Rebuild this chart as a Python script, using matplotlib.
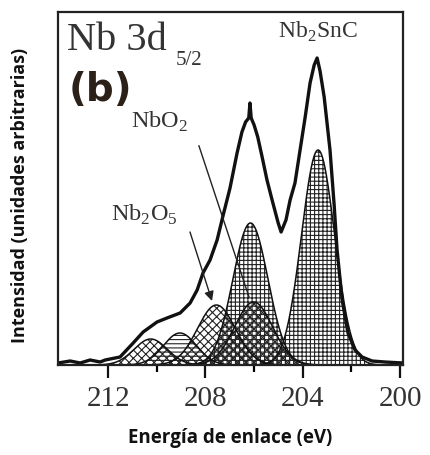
import numpy as np
import matplotlib
matplotlib.use("Agg")
import matplotlib.pyplot as plt

plt.rcParams['mathtext.fontset'] = 'custom'
plt.rcParams['mathtext.rm'] = 'Liberation Serif'
plt.rcParams['hatch.linewidth'] = 0.8

# Measured envelope (binding energy eV, intensity a.u.)
env_energy = [214.06, 213.56, 213.15, 212.74, 212.33, 212.12, 211.51, 210.97, 210.56,
              209.99, 209.58, 209.04, 208.63, 208.34, 208.10, 207.81, 207.52, 207.27,
              206.99, 206.70, 206.50, 206.35, 206.22, 206.17, 206.12, 206.00, 205.85,
              205.67, 205.47, 205.26, 205.01, 204.89, 204.69, 204.52, 204.32, 204.11,
              203.90, 203.70, 203.53, 203.41, 203.29, 203.12, 202.88, 202.71, 202.59,
              202.38, 202.14, 201.85, 201.56, 201.15, 200.62, 199.88]
env_intensity = [2, 4, 2, 5, 3, 5, 8, 22, 33,
                 43, 47, 52, 62, 75, 92, 105, 125, 150,
                 177, 212, 233, 243, 247, 262, 247, 240, 228,
                 208, 185, 165, 142, 133, 145, 165, 182, 215,
                 248, 282, 300, 307, 294, 268, 215, 160, 115,
                 65, 32, 15, 8, 4, 3, 2]

# Fitted components: centre (eV), height (a.u.), sigma (eV)
comp_names = ['Nb2SnC 3d5/2', 'Nb2SnC 3d3/2', 'NbO2 a', 'Nb2O5 a', 'NbO2 b', 'Nb2O5 b']
comp_center = [203.37, 206.15, 206.02, 207.55, 209.05, 210.25]
comp_height = [215, 142, 63, 60, 32, 26]
comp_sigma = [0.68, 0.72, 0.78, 0.78, 0.68, 0.68]
comp_hatch = ['++++', '++++', 'xxxx', 'xxxx', '----', 'xxxx']

xticks_major = [212, 208, 204, 200]
xticks_minor = [210, 206, 202]

fig = plt.figure(figsize=(4.3, 4.55), dpi=100)
ax = fig.add_axes([58/430, (455-365)/455, 345/430, 353/455])

e = np.linspace(214.2, 199.8, 1200)
for c, h, s, hat in zip(comp_center, comp_height, comp_sigma, comp_hatch):
    y = h * np.exp(-0.5 * ((e - c) / s) ** 2)
    ax.fill_between(e, 0, y, facecolor='none', edgecolor='#222222', hatch=hat, linewidth=0)
    ax.plot(e, y, color='#111111', lw=1.1)

ax.plot(env_energy, env_intensity, color='#111111', lw=2.4, solid_joinstyle='round')

ax.set_xlim(214.06, 199.88)
ax.set_ylim(0, 353)
ax.set_xticks(xticks_major)
ax.set_xticks(xticks_minor, minor=True)
ax.set_yticks([])
ax.tick_params(axis='x', which='major', direction='out', length=9, width=1.6,
               labelsize=21, pad=6, colors='#111111', labelcolor='#333333')
ax.tick_params(axis='x', which='minor', direction='out', length=5, width=1.6)
for lab in ax.get_xticklabels():
    lab.set_fontfamily('Liberation Serif')
for sp in ax.spines.values():
    sp.set_linewidth(1.6)
    sp.set_color('#222222')

ax.set_xlabel('Energía de enlace (eV)', fontfamily='Open Sans', fontweight='bold',
              fontsize=13.5, labelpad=12, color='#111111')
ax.set_ylabel('Intensidad (unidades arbitrarias)', fontfamily='Open Sans', fontweight='bold',
              fontsize=13, color='#111111')
ax.yaxis.set_label_coords(-0.085, 0.48)

def px(x, y):
    return ((x - 58) / 345, (365 - y) / 353)

tr = ax.transAxes
ax.text(*px(67, 50), 'Nb 3d', transform=tr, fontfamily='Liberation Serif', fontsize=29,
        color='#333333', va='baseline', ha='left')
ax.text(*px(176, 65), '5/2', transform=tr, fontfamily='Liberation Serif', fontsize=15,
        color='#333333', va='baseline', ha='left')
ax.text(*px(69, 101), '(b)', transform=tr, fontfamily='DejaVu Sans', fontweight='bold',
        fontsize=28, color='#2b2118', va='baseline', ha='left')
ax.text(*px(278, 38), r'Nb$_\mathregular{2}$SnC', transform=tr, fontfamily='Liberation Serif',
        fontsize=17, color='#333333', va='baseline', ha='left')
ax.text(*px(131, 128), r'NbO$_\mathregular{2}$', transform=tr, fontfamily='Liberation Serif',
        fontsize=17.5, color='#333333', va='baseline', ha='left')
ax.text(*px(111, 221), r'Nb$_\mathregular{2}$O$_\mathregular{5}$', transform=tr,
        fontfamily='Liberation Serif', fontsize=17.5, color='#333333', va='baseline', ha='left')

ax.annotate('', xy=px(250, 300), xytext=px(198, 143), xycoords=tr, textcoords=tr,
            arrowprops=dict(arrowstyle='-', color='#222222', lw=1.0))
ax.annotate('', xy=px(212, 301), xytext=px(190, 232), xycoords=tr, textcoords=tr,
            arrowprops=dict(arrowstyle='-|>', color='#222222', lw=1.0,
                            mutation_scale=14, shrinkA=0, shrinkB=0))

fig.savefig('out.png', dpi=100)
